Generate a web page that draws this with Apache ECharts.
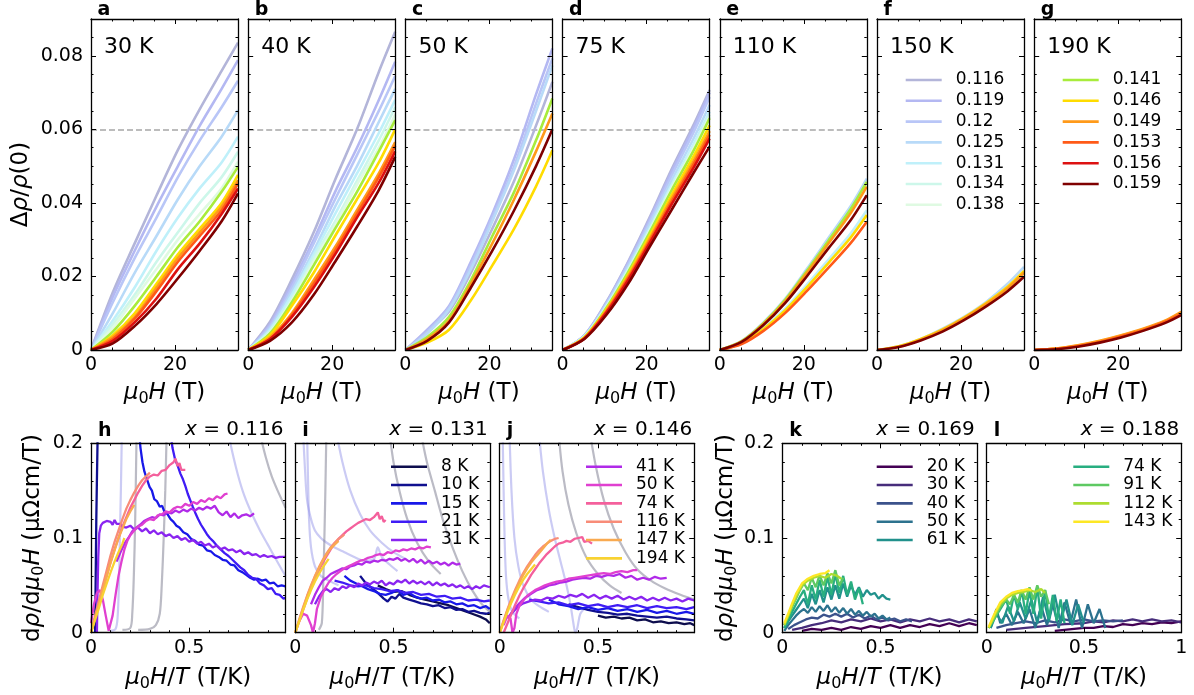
<!DOCTYPE html>
<html><head><meta charset="utf-8">
<script src="https://cdn.jsdelivr.net/npm/echarts@6/dist/echarts.min.js"></script>
<style>html,body{margin:0;padding:0;background:#fff}#c{width:1194px;height:695px}</style>
</head><body><div id="c"></div>
<script>
// ---------------- DATA ----------------
const fieldT = [0, 5.2, 10.4, 15.6, 20.7, 25.9, 31.1, 35];
const dopings = ['0.116','0.119','0.12','0.125','0.131','0.134','0.138','0.141','0.146','0.149','0.153','0.156','0.159'];
const panelTemps = ['30 K','40 K','50 K','75 K','110 K','150 K','190 K'];
const topLetters = ['a','b','c','d','e','f','g'];
const refLevel = 0.06;

const mr30K = [
 [0,0.0157,0.029,0.042,0.0544,0.0655,0.0759,0.0836],
 [0,0.0145,0.027,0.039,0.050,0.061,0.071,0.0788],
 [0,0.013,0.025,0.036,0.047,0.057,0.066,0.0732],
 [0,0.010,0.021,0.031,0.041,0.050,0.058,0.0652],
 [0,0.008,0.017,0.027,0.036,0.044,0.051,0.058],
 [0,0.007,0.015,0.024,0.032,0.040,0.047,0.0539],
 [0,0.006,0.014,0.022,0.030,0.037,0.044,0.0512],
 [0,0.005,0.012,0.020,0.028,0.035,0.043,0.0498],
 [0,0.004,0.010,0.018,0.026,0.033,0.040,0.0476],
 [0,0.0035,0.009,0.017,0.025,0.032,0.039,0.0462],
 [0,0.003,0.0085,0.016,0.024,0.031,0.038,0.0453],
 [0,0.0025,0.0075,0.014,0.022,0.029,0.037,0.0439],
 [0,0.0018,0.0065,0.0125,0.0195,0.027,0.035,0.0426]
];
const mr40K = [
 [0,0.0077,0.0192,0.032,0.0463,0.060,0.0756,0.0865],
 [0,0.007,0.018,0.030,0.043,0.055,0.068,0.0784],
 [0,0.0065,0.017,0.029,0.041,0.053,0.065,0.0745],
 [0,0.006,0.016,0.027,0.039,0.050,0.062,0.071],
 [0,0.0055,0.015,0.026,0.037,0.048,0.059,0.068],
 [0,0.005,0.014,0.025,0.035,0.046,0.057,0.066],
 [0,0.0048,0.0135,0.024,0.034,0.045,0.055,0.064],
 [0,0.0045,0.013,0.023,0.033,0.043,0.054,0.0625],
 [0,0.004,0.012,0.021,0.031,0.041,0.051,0.060],
 [0,0.0035,0.010,0.019,0.028,0.038,0.048,0.0565],
 [0,0.003,0.0095,0.018,0.027,0.037,0.047,0.0555],
 [0,0.003,0.009,0.017,0.026,0.036,0.0455,0.054],
 [0,0.0025,0.0075,0.015,0.024,0.0335,0.0435,0.0525]
];
const mr50K = [
 [0,0.005,0.0105,0.021,0.033,0.046,0.061,0.0729],
 [0,0.0055,0.012,0.024,0.037,0.052,0.0695,0.082],
 [0,0.005,0.0115,0.023,0.036,0.050,0.067,0.0793],
 [0,0.0045,0.011,0.022,0.035,0.049,0.065,0.0774],
 null, null, null,
 [0,0.0035,0.009,0.019,0.031,0.043,0.057,0.0684],
 [0,0.002,0.0055,0.0135,0.023,0.033,0.0445,0.0543],
 [0,0.003,0.008,0.018,0.029,0.041,0.054,0.0643],
 null, null,
 [0,0.0025,0.0075,0.017,0.027,0.038,0.050,0.060]
];
const mr75K = [
 [0,0.004,0.013,0.024,0.036,0.049,0.061,0.0707],
 [0,0.004,0.0128,0.0237,0.0355,0.0483,0.0602,0.070],
 [0,0.0039,0.0125,0.0232,0.0348,0.0473,0.059,0.0688],
 [0,0.0038,0.0122,0.0226,0.034,0.046,0.0573,0.0666],
 [0,0.0037,0.0119,0.022,0.033,0.0448,0.0558,0.0648],
 [0,0.0036,0.0117,0.0217,0.0326,0.0442,0.055,0.064],
 [0,0.0036,0.0116,0.0215,0.0323,0.0438,0.0546,0.0635],
 [0,0.0035,0.0114,0.0212,0.0319,0.0433,0.054,0.063],
 [0,0.0034,0.011,0.0205,0.031,0.042,0.0525,0.0611],
 [0,0.0033,0.0107,0.020,0.0302,0.041,0.0512,0.0595],
 [0,0.0032,0.0104,0.0195,0.0296,0.0402,0.0503,0.0585],
 [0,0.0031,0.0101,0.019,0.029,0.0395,0.0494,0.0575],
 [0,0.0030,0.0095,0.018,0.028,0.038,0.048,0.0553]
];
const mr110K = [
 null, null, null,
 [0,0.0025,0.0075,0.014,0.022,0.0305,0.039,0.0466],
 [0,0.0019,0.006,0.0113,0.0177,0.0246,0.0316,0.038],
 null, null,
 [0,0.0024,0.0073,0.0137,0.0215,0.0298,0.0382,0.0457],
 [0,0.0018,0.0057,0.0108,0.017,0.0237,0.0305,0.0367],
 [0,0.0023,0.0071,0.0133,0.0209,0.029,0.0371,0.0444],
 [0,0.0016,0.0052,0.0101,0.016,0.0224,0.029,0.0349],
 null,
 [0,0.0022,0.0068,0.0128,0.020,0.0277,0.0352,0.0421]
];
const mr150K = [
 null, null, null,
 [0,0.001,0.003,0.0058,0.009,0.013,0.018,0.0226],
 null, null, null, null,
 [0,0.001,0.003,0.0056,0.0088,0.0127,0.0172,0.0215],
 [0,0.0009,0.0028,0.0054,0.0086,0.0124,0.0168,0.021],
 null, null,
 [0,0.0008,0.0026,0.005,0.0081,0.0118,0.016,0.0199]
];
const mr190K = [
 null, null, null, null, null, null, null, null,
 [0,0.0004,0.0012,0.0024,0.0039,0.0056,0.0078,0.0101],
 [0,0.0004,0.0013,0.0025,0.004,0.0058,0.008,0.0104],
 [0,0.0003,0.0011,0.0022,0.0037,0.0054,0.0076,0.0098],
 null,
 [0,0.0002,0.0009,0.002,0.0034,0.0052,0.0073,0.0095]
];

// bottom row
const bottomDopings = ['0.116','0.131','0.146','0.169','0.188'];
const bottomLetters = ['h','i','j','k','l'];
const tempsLow = ['8 K','10 K','15 K','21 K','31 K','41 K','50 K','74 K','116 K','147 K','194 K'];
const tempsHigh = ['20 K','30 K','40 K','50 K','61 K','74 K','91 K','112 K','143 K'];

const dr0116 = [
 null,
 [[0.021,0],[0.023,0.04],[0.025,0.08],[0.027,0.12],[0.03,0.16],[0.034,0.21]],
 [[0.245,0.21],[0.252,0.195],[0.262,0.18],[0.272,0.17],[0.285,0.162],[0.298,0.154],[0.31,0.15],[0.322,0.141],[0.335,0.139],[0.35,0.133],[0.362,0.134],[0.375,0.127],[0.39,0.125],[0.405,0.12],[0.42,0.117],[0.435,0.113],[0.45,0.111],[0.47,0.106],[0.49,0.104],[0.51,0.099],[0.53,0.097],[0.55,0.093],[0.57,0.092],[0.59,0.087],[0.61,0.086],[0.63,0.082],[0.65,0.080],[0.67,0.077],[0.69,0.076],[0.71,0.072],[0.73,0.071],[0.75,0.066],[0.77,0.064],[0.79,0.061],[0.81,0.058],[0.83,0.056],[0.85,0.057],[0.87,0.055],[0.89,0.056],[0.91,0.052],[0.93,0.053],[0.95,0.049],[0.97,0.05],[0.99,0.049]],
 [[0.405,0.21],[0.415,0.195],[0.428,0.183],[0.442,0.176],[0.455,0.168],[0.468,0.162],[0.48,0.155],[0.492,0.147],[0.505,0.14],[0.518,0.133],[0.53,0.127],[0.545,0.12],[0.56,0.114],[0.575,0.109],[0.59,0.104],[0.605,0.1],[0.62,0.097],[0.64,0.092],[0.66,0.088],[0.68,0.084],[0.7,0.081],[0.72,0.077],[0.74,0.073],[0.76,0.069],[0.78,0.066],[0.8,0.061],[0.82,0.058],[0.84,0.057],[0.86,0.052],[0.88,0.05],[0.9,0.046],[0.92,0.047],[0.94,0.041],[0.96,0.04],[0.98,0.036],[0.99,0.037]],
 [[0.03,0],[0.033,0.04],[0.037,0.08],[0.042,0.105],[0.05,0.113],[0.06,0.116],[0.07,0.115],[0.08,0.118],[0.09,0.116],[0.1,0.117],[0.11,0.114],[0.12,0.119],[0.13,0.115],[0.14,0.113],[0.15,0.115],[0.16,0.112],[0.17,0.114],[0.18,0.111],[0.2,0.113],[0.22,0.109],[0.24,0.111],[0.26,0.107],[0.28,0.11],[0.3,0.105],[0.32,0.108],[0.34,0.104],[0.36,0.106],[0.38,0.102],[0.4,0.104],[0.42,0.1],[0.44,0.102],[0.46,0.098],[0.48,0.1],[0.5,0.096],[0.52,0.098],[0.54,0.094],[0.56,0.096],[0.58,0.092],[0.6,0.094],[0.62,0.09],[0.64,0.092],[0.66,0.088],[0.68,0.09],[0.7,0.087],[0.72,0.088],[0.74,0.085],[0.76,0.087],[0.78,0.083],[0.8,0.085],[0.82,0.082],[0.84,0.083],[0.86,0.08],[0.88,0.082],[0.9,0.08],[0.92,0.081],[0.94,0.079],[0.96,0.08],[0.99,0.08]],
 [[0.13,0.075],[0.15,0.085],[0.17,0.094],[0.19,0.1],[0.21,0.107],[0.23,0.111],[0.25,0.114],[0.27,0.118],[0.29,0.12],[0.31,0.122],[0.33,0.121],[0.35,0.125],[0.37,0.124],[0.39,0.127],[0.41,0.126],[0.43,0.129],[0.45,0.127],[0.47,0.13],[0.49,0.128],[0.51,0.131],[0.53,0.129],[0.55,0.132],[0.57,0.13],[0.59,0.133],[0.61,0.131],[0.63,0.134],[0.65,0.127],[0.67,0.124],[0.69,0.128],[0.71,0.122],[0.73,0.126],[0.75,0.121],[0.77,0.124],[0.79,0.125],[0.81,0.123],[0.83,0.126]],
 [[0.0,0.01],[0.015,0.03],[0.03,0.042],[0.045,0.045],[0.06,0.035],[0.075,0.018],[0.09,0.002],[0.1,0.0],[0.11,0.018],[0.125,0.04],[0.14,0.06],[0.155,0.075],[0.17,0.088],[0.185,0.097],[0.2,0.103],[0.22,0.108],[0.24,0.112],[0.26,0.114],[0.28,0.118],[0.3,0.12],[0.32,0.119],[0.34,0.124],[0.36,0.125],[0.38,0.128],[0.4,0.127],[0.42,0.131],[0.44,0.133],[0.46,0.132],[0.48,0.136],[0.5,0.134],[0.52,0.138],[0.54,0.136],[0.56,0.14],[0.58,0.138],[0.6,0.142],[0.62,0.14],[0.64,0.144],[0.66,0.142],[0.68,0.146],[0.695,0.147]],
 [[0,0.0],[0.02,0.015],[0.04,0.03],[0.06,0.045],[0.08,0.06],[0.1,0.075],[0.12,0.088],[0.14,0.1],[0.16,0.112],[0.18,0.122],[0.2,0.132],[0.22,0.14],[0.24,0.148],[0.26,0.155],[0.28,0.161],[0.3,0.165],[0.32,0.167],[0.34,0.166],[0.36,0.171],[0.38,0.172],[0.4,0.177],[0.42,0.18],[0.43,0.184],[0.44,0.176],[0.45,0.179],[0.46,0.172],[0.48,0.172]],
 [[0,0],[0.02,0.017],[0.04,0.034],[0.06,0.05],[0.08,0.066],[0.1,0.082],[0.12,0.096],[0.14,0.108],[0.16,0.12],[0.18,0.131],[0.2,0.14],[0.22,0.148],[0.24,0.155],[0.26,0.161],[0.28,0.165],[0.3,0.169]],
 [[0,0],[0.02,0.015],[0.04,0.03],[0.06,0.045],[0.08,0.06],[0.1,0.074],[0.12,0.087],[0.14,0.1],[0.16,0.11],[0.18,0.12],[0.2,0.128],[0.22,0.135]],
 [[0,0],[0.02,0.013],[0.04,0.026],[0.06,0.04],[0.08,0.052],[0.1,0.064],[0.12,0.075],[0.14,0.085],[0.16,0.094],[0.17,0.1]]
];
const dr0131 = [
 [[0.42,0.05],[0.46,0.046],[0.5,0.043],[0.54,0.044],[0.58,0.04],[0.62,0.037],[0.66,0.035],[0.7,0.033],[0.74,0.031],[0.78,0.029],[0.82,0.026],[0.86,0.023],[0.9,0.02],[0.94,0.017],[0.97,0.014],[0.99,0.01]],
 [[0.33,0.06],[0.36,0.052],[0.39,0.047],[0.42,0.042],[0.45,0.036],[0.47,0.033],[0.49,0.038],[0.51,0.036],[0.53,0.041],[0.55,0.037],[0.58,0.035],[0.61,0.033],[0.64,0.031],[0.67,0.03],[0.7,0.028],[0.73,0.029],[0.76,0.026],[0.79,0.027],[0.82,0.024],[0.85,0.025],[0.88,0.022],[0.91,0.023],[0.94,0.021],[0.97,0.02],[0.99,0.021]],
 [[0.25,0.06],[0.28,0.055],[0.31,0.052],[0.34,0.049],[0.37,0.046],[0.4,0.044],[0.43,0.041],[0.46,0.04],[0.49,0.042],[0.52,0.045],[0.55,0.04],[0.58,0.042],[0.61,0.038],[0.64,0.036],[0.67,0.037],[0.7,0.034],[0.73,0.035],[0.76,0.032],[0.79,0.033],[0.82,0.03],[0.85,0.031],[0.88,0.028],[0.91,0.029],[0.94,0.026],[0.97,0.028],[0.99,0.025]],
 [[0.2,0.055],[0.24,0.053],[0.28,0.05],[0.32,0.049],[0.36,0.05],[0.4,0.047],[0.44,0.046],[0.48,0.044],[0.52,0.045],[0.56,0.042],[0.6,0.043],[0.64,0.04],[0.68,0.041],[0.72,0.038],[0.76,0.039],[0.8,0.036],[0.84,0.037],[0.88,0.034],[0.92,0.035],[0.96,0.033],[0.99,0.034]],
 [[0.1,0.03],[0.12,0.038],[0.14,0.044],[0.16,0.046],[0.18,0.043],[0.2,0.047],[0.22,0.045],[0.24,0.049],[0.26,0.047],[0.28,0.05],[0.3,0.048],[0.32,0.052],[0.34,0.05],[0.36,0.053],[0.38,0.051],[0.4,0.054],[0.42,0.052],[0.44,0.055],[0.46,0.05],[0.48,0.053],[0.5,0.051],[0.52,0.055],[0.54,0.053],[0.56,0.056],[0.58,0.052],[0.6,0.055],[0.62,0.052],[0.64,0.054],[0.66,0.051],[0.68,0.054],[0.7,0.05],[0.72,0.053],[0.74,0.05],[0.76,0.052],[0.78,0.049],[0.8,0.051],[0.82,0.048],[0.84,0.05],[0.86,0.047],[0.88,0.049],[0.9,0.046],[0.92,0.049],[0.94,0.047],[0.96,0.05],[0.99,0.048]],
 [[0.08,0.03],[0.1,0.04],[0.12,0.048],[0.14,0.055],[0.16,0.058],[0.18,0.062],[0.2,0.064],[0.22,0.066],[0.24,0.068],[0.26,0.067],[0.28,0.07],[0.3,0.071],[0.32,0.073],[0.34,0.072],[0.36,0.075],[0.38,0.074],[0.4,0.076],[0.42,0.075],[0.44,0.077],[0.46,0.076],[0.48,0.078],[0.5,0.077],[0.52,0.079],[0.54,0.076],[0.56,0.078],[0.58,0.075],[0.6,0.078],[0.62,0.074],[0.64,0.077],[0.66,0.073],[0.68,0.076],[0.7,0.073],[0.72,0.075],[0.74,0.072],[0.76,0.074],[0.78,0.071],[0.8,0.074],[0.82,0.072],[0.84,0.073]],
 [[0.02,0.012],[0.04,0.02],[0.06,0.018],[0.08,0.008],[0.09,0.0],[0.1,0.01],[0.11,0.025],[0.13,0.038],[0.15,0.046],[0.17,0.053],[0.19,0.058],[0.21,0.062],[0.23,0.065],[0.25,0.068],[0.27,0.07],[0.29,0.072],[0.31,0.074],[0.33,0.076],[0.35,0.077],[0.37,0.079],[0.39,0.08],[0.41,0.082],[0.43,0.083],[0.45,0.082],[0.47,0.085],[0.49,0.084],[0.51,0.087],[0.53,0.086],[0.55,0.088],[0.57,0.087],[0.59,0.089],[0.61,0.088],[0.63,0.09],[0.65,0.089],[0.67,0.091],[0.69,0.09]],
 [[0,0],[0.02,0.012],[0.04,0.024],[0.06,0.036],[0.08,0.047],[0.1,0.057],[0.12,0.066],[0.14,0.074],[0.16,0.081],[0.18,0.088],[0.2,0.094],[0.22,0.099],[0.24,0.103],[0.26,0.107],[0.28,0.11],[0.3,0.113],[0.32,0.116],[0.34,0.118],[0.36,0.12],[0.38,0.119],[0.4,0.122],[0.42,0.127],[0.43,0.12],[0.44,0.123],[0.45,0.117],[0.46,0.119]],
 [[0,0],[0.02,0.014],[0.04,0.027],[0.06,0.039],[0.08,0.05],[0.1,0.06],[0.12,0.069],[0.14,0.077],[0.16,0.084],[0.18,0.09],[0.2,0.095],[0.22,0.099],[0.24,0.102],[0.25,0.104]],
 [[0,0],[0.02,0.013],[0.04,0.026],[0.06,0.038],[0.08,0.049],[0.1,0.059],[0.12,0.068],[0.14,0.076],[0.16,0.083],[0.18,0.089],[0.2,0.093],[0.22,0.097]],
 [[0,0],[0.02,0.012],[0.04,0.024],[0.06,0.035],[0.08,0.045],[0.1,0.054],[0.12,0.062],[0.14,0.069],[0.16,0.075],[0.17,0.078]]
];
const dr0146 = [
 [[0.5,0.018],[0.54,0.016],[0.58,0.017],[0.62,0.015],[0.66,0.016],[0.7,0.013],[0.74,0.014],[0.78,0.011],[0.82,0.012],[0.86,0.01],[0.9,0.011],[0.94,0.009],[0.97,0.01],[0.99,0.008]],
 [[0.35,0.03],[0.4,0.027],[0.45,0.024],[0.5,0.022],[0.55,0.021],[0.6,0.019],[0.65,0.02],[0.7,0.018],[0.75,0.017],[0.8,0.016],[0.85,0.017],[0.9,0.015],[0.95,0.014],[0.99,0.013]],
 [[0.25,0.035],[0.3,0.03],[0.35,0.028],[0.4,0.025],[0.45,0.027],[0.5,0.024],[0.55,0.026],[0.6,0.023],[0.65,0.025],[0.7,0.022],[0.75,0.024],[0.8,0.021],[0.85,0.023],[0.9,0.02],[0.95,0.022],[0.99,0.02]],
 [[0.15,0.035],[0.2,0.033],[0.25,0.031],[0.3,0.032],[0.35,0.029],[0.4,0.031],[0.45,0.028],[0.5,0.03],[0.55,0.027],[0.6,0.029],[0.65,0.027],[0.7,0.029],[0.75,0.026],[0.8,0.028],[0.85,0.026],[0.9,0.027],[0.95,0.025],[0.99,0.027]],
 [[0.06,0.02],[0.09,0.027],[0.12,0.031],[0.15,0.033],[0.18,0.035],[0.21,0.034],[0.24,0.037],[0.27,0.036],[0.3,0.039],[0.33,0.037],[0.36,0.04],[0.39,0.038],[0.42,0.041],[0.45,0.037],[0.48,0.04],[0.51,0.036],[0.54,0.039],[0.57,0.036],[0.6,0.039],[0.63,0.035],[0.66,0.038],[0.69,0.035],[0.72,0.038],[0.75,0.034],[0.78,0.037],[0.81,0.034],[0.84,0.037],[0.87,0.034],[0.9,0.036],[0.93,0.033],[0.96,0.036],[0.99,0.034]],
 [[0.04,0.015],[0.07,0.024],[0.1,0.031],[0.13,0.037],[0.16,0.041],[0.19,0.045],[0.22,0.047],[0.25,0.05],[0.28,0.051],[0.31,0.053],[0.34,0.054],[0.37,0.056],[0.4,0.057],[0.43,0.058],[0.46,0.057],[0.49,0.06],[0.52,0.059],[0.55,0.061],[0.58,0.06],[0.61,0.062],[0.64,0.058],[0.67,0.06],[0.7,0.056],[0.73,0.058],[0.76,0.056],[0.79,0.059],[0.82,0.057],[0.85,0.058]],
 [[0.02,0.008],[0.04,0.018],[0.055,0.015],[0.065,0.0],[0.075,0.005],[0.085,0.02],[0.1,0.028],[0.12,0.034],[0.14,0.039],[0.16,0.042],[0.18,0.045],[0.2,0.047],[0.23,0.05],[0.26,0.052],[0.29,0.054],[0.32,0.055],[0.35,0.057],[0.38,0.058],[0.41,0.059],[0.44,0.06],[0.47,0.061],[0.5,0.062],[0.53,0.063],[0.56,0.062],[0.59,0.064],[0.62,0.065],[0.65,0.064],[0.68,0.066],[0.7,0.066]],
 [[0.02,0],[0.04,0.01],[0.06,0.02],[0.08,0.03],[0.1,0.039],[0.12,0.047],[0.14,0.054],[0.16,0.061],[0.18,0.067],[0.2,0.073],[0.22,0.078],[0.24,0.083],[0.26,0.087],[0.28,0.091],[0.3,0.094],[0.32,0.095],[0.34,0.097],[0.36,0.096],[0.38,0.099],[0.4,0.1],[0.41,0.098],[0.42,0.101],[0.43,0.096],[0.45,0.097],[0.47,0.094]],
 [[0,0],[0.02,0.013],[0.04,0.025],[0.06,0.036],[0.08,0.046],[0.1,0.055],[0.12,0.063],[0.14,0.07],[0.16,0.076],[0.18,0.082],[0.2,0.087],[0.22,0.091],[0.24,0.094],[0.26,0.097],[0.28,0.099],[0.3,0.1]],
 [[0,0],[0.02,0.012],[0.04,0.024],[0.06,0.034],[0.08,0.044],[0.1,0.053],[0.12,0.061],[0.14,0.068],[0.16,0.074],[0.18,0.079],[0.2,0.084],[0.22,0.089],[0.24,0.094],[0.26,0.098]],
 [[0,0],[0.02,0.011],[0.04,0.022],[0.06,0.032],[0.08,0.041],[0.1,0.049],[0.12,0.056],[0.14,0.062],[0.16,0.067],[0.18,0.072]]
];
const dr0169 = [
 [[0.1,0.002],[0.15,0.004],[0.2,0.003],[0.25,0.005],[0.3,0.003],[0.35,0.006],[0.4,0.004],[0.45,0.007],[0.5,0.005],[0.55,0.008],[0.6,0.005],[0.65,0.008],[0.7,0.006],[0.75,0.009],[0.8,0.007],[0.85,0.01],[0.9,0.007],[0.95,0.01],[0.99,0.008]],
 [[0.05,0.003],[0.1,0.005],[0.15,0.008],[0.2,0.01],[0.25,0.013],[0.3,0.011],[0.35,0.014],[0.4,0.012],[0.45,0.015],[0.5,0.012],[0.55,0.014],[0.6,0.011],[0.65,0.014],[0.7,0.012],[0.75,0.015],[0.8,0.012],[0.85,0.014],[0.9,0.011],[0.95,0.014],[0.99,0.012]],
 [[0.03,0.004],[0.06,0.008],[0.09,0.011],[0.12,0.014],[0.15,0.016],[0.18,0.015],[0.21,0.019],[0.24,0.017],[0.27,0.02],[0.3,0.017],[0.33,0.02],[0.36,0.016],[0.39,0.019],[0.42,0.015],[0.45,0.018],[0.48,0.014],[0.51,0.016],[0.54,0.013],[0.57,0.015],[0.6,0.012],[0.63,0.014],[0.66,0.012]],
 [[0.01,0.002],[0.03,0.008],[0.05,0.013],[0.07,0.018],[0.09,0.022],[0.11,0.025],[0.13,0.021],[0.15,0.027],[0.17,0.022],[0.19,0.028],[0.21,0.023],[0.23,0.029],[0.25,0.022],[0.27,0.027],[0.29,0.021],[0.31,0.026],[0.33,0.02],[0.35,0.025],[0.37,0.019],[0.39,0.023],[0.41,0.018],[0.43,0.022],[0.45,0.017],[0.47,0.02],[0.49,0.015],[0.51,0.018],[0.53,0.014],[0.55,0.016]],
 [[0.01,0.005],[0.03,0.012],[0.05,0.018],[0.07,0.024],[0.09,0.03],[0.11,0.036],[0.13,0.026],[0.15,0.041],[0.17,0.03],[0.19,0.045],[0.21,0.032],[0.23,0.048],[0.25,0.035],[0.27,0.05],[0.29,0.036],[0.31,0.052],[0.33,0.038],[0.35,0.05],[0.37,0.04],[0.39,0.048],[0.41,0.038],[0.43,0.045],[0.45,0.04],[0.47,0.042],[0.49,0.036],[0.51,0.04],[0.53,0.036],[0.55,0.035]],
 [[0.01,0.005],[0.03,0.013],[0.05,0.022],[0.07,0.03],[0.09,0.038],[0.11,0.045],[0.13,0.03],[0.15,0.05],[0.17,0.035],[0.19,0.056],[0.21,0.038],[0.23,0.059],[0.25,0.04],[0.27,0.062],[0.29,0.042],[0.31,0.06],[0.33,0.04],[0.35,0.054],[0.37,0.035],[0.39,0.047],[0.41,0.03]],
 [[0.01,0.008],[0.03,0.017],[0.05,0.027],[0.07,0.036],[0.09,0.045],[0.11,0.052],[0.13,0.045],[0.15,0.058],[0.17,0.048],[0.19,0.061],[0.21,0.05],[0.23,0.063],[0.25,0.052],[0.27,0.066],[0.29,0.05],[0.31,0.058]],
 [[0.01,0.008],[0.03,0.018],[0.05,0.029],[0.07,0.038],[0.1,0.05],[0.13,0.055],[0.16,0.058],[0.19,0.06],[0.22,0.058],[0.25,0.062],[0.28,0.06],[0.3,0.057]],
 [[0.01,0.01],[0.03,0.02],[0.05,0.031],[0.07,0.041],[0.1,0.052],[0.13,0.057],[0.16,0.06],[0.19,0.062],[0.22,0.063],[0.24,0.066]]
];
const dr0188 = [
 [[0.35,0.002],[0.4,0.003],[0.45,0.004],[0.5,0.005],[0.55,0.005],[0.6,0.007],[0.65,0.006],[0.7,0.009],[0.75,0.008],[0.8,0.01],[0.85,0.009],[0.9,0.011],[0.95,0.01],[1.0,0.012]],
 [[0.1,0.003],[0.2,0.005],[0.3,0.007],[0.4,0.009],[0.5,0.01],[0.55,0.012],[0.6,0.011],[0.65,0.013],[0.7,0.012],[0.75,0.014],[0.8,0.012],[0.85,0.014],[0.9,0.012],[0.95,0.013],[1.0,0.011]],
 [[0.05,0.005],[0.1,0.008],[0.15,0.01],[0.2,0.012],[0.25,0.01],[0.3,0.013],[0.35,0.011],[0.4,0.014],[0.45,0.012],[0.5,0.014],[0.55,0.012],[0.6,0.013],[0.65,0.012],[0.7,0.013]],
 [[0.02,0.005],[0.05,0.025],[0.07,0.01],[0.1,0.02],[0.13,0.008],[0.16,0.022],[0.19,0.01],[0.22,0.025],[0.25,0.005],[0.28,0.028],[0.31,0.008],[0.34,0.03],[0.37,0.005],[0.4,0.032],[0.43,0.01],[0.46,0.035],[0.49,0.005],[0.52,0.03],[0.55,0.01],[0.58,0.025],[0.61,0.005]],
 [[0.02,0.005],[0.05,0.02],[0.08,0.01],[0.11,0.028],[0.14,0.012],[0.17,0.032],[0.2,0.015],[0.23,0.035],[0.26,0.01],[0.29,0.038],[0.32,0.012],[0.35,0.04],[0.38,0.01],[0.41,0.035],[0.44,0.008],[0.47,0.03],[0.5,0.01]],
 [[0.01,0.005],[0.04,0.015],[0.07,0.025],[0.1,0.035],[0.12,0.02],[0.14,0.04],[0.16,0.025],[0.18,0.045],[0.2,0.02],[0.22,0.045],[0.24,0.02],[0.26,0.048],[0.28,0.015],[0.3,0.045],[0.32,0.015],[0.34,0.04],[0.36,0.012],[0.38,0.035],[0.4,0.01]],
 [[0.01,0.005],[0.04,0.015],[0.07,0.027],[0.1,0.035],[0.12,0.03],[0.14,0.04],[0.16,0.032],[0.18,0.045],[0.2,0.035],[0.22,0.048],[0.24,0.035],[0.26,0.05],[0.28,0.038],[0.3,0.045],[0.32,0.03]],
 [[0.01,0.005],[0.04,0.018],[0.07,0.03],[0.1,0.036],[0.13,0.04],[0.16,0.042],[0.19,0.043],[0.22,0.045],[0.25,0.043],[0.28,0.046],[0.3,0.042]],
 [[0.01,0.006],[0.04,0.02],[0.07,0.032],[0.1,0.038],[0.13,0.042],[0.16,0.044],[0.19,0.045],[0.21,0.046],[0.23,0.045]]
];

// faint reference curves behind panels h, i, j
const faintLav0116 = [
 [[0.1,0.002],[0.125,0.004],[0.135,0.015],[0.142,0.05],[0.147,0.1],[0.152,0.15],[0.157,0.21]],
 [[0.7,0.21],[0.72,0.19],[0.75,0.165],[0.78,0.145],[0.82,0.125],[0.86,0.108],[0.9,0.093],[0.94,0.078],[0.97,0.067],[0.99,0.06]]
];
const faintGrey0116 = [
 [[0.16,0.003],[0.2,0.005],[0.21,0.02],[0.218,0.06],[0.225,0.12],[0.232,0.21]],
 [[0.24,0.003],[0.3,0.004],[0.33,0.008],[0.35,0.02],[0.36,0.05],[0.37,0.1],[0.378,0.15],[0.385,0.21]],
 [[0.86,0.21],[0.89,0.185],[0.92,0.165],[0.95,0.15],[0.99,0.132]]
];
const faintLav0131 = [
 [[0.04,0.21],[0.05,0.17],[0.06,0.14],[0.08,0.12],[0.1,0.108],[0.13,0.1],[0.16,0.095],[0.2,0.09],[0.25,0.085],[0.3,0.08],[0.35,0.076],[0.4,0.078],[0.42,0.09],[0.44,0.08],[0.48,0.072],[0.52,0.065]],
 [[0.06,0.21],[0.065,0.16],[0.07,0.12],[0.08,0.09],[0.1,0.07],[0.13,0.06],[0.17,0.055],[0.22,0.05]],
 [[0.21,0.21],[0.24,0.18],[0.28,0.15],[0.33,0.125],[0.38,0.108],[0.44,0.095],[0.5,0.085],[0.56,0.078]]
];
const faintGrey0131 = [
 [[0.12,0.003],[0.135,0.01],[0.142,0.05],[0.148,0.1],[0.153,0.15],[0.158,0.21]],
 [[0.48,0.21],[0.5,0.18],[0.53,0.15],[0.57,0.12],[0.62,0.095],[0.68,0.075],[0.74,0.062]],
 [[0.64,0.21],[0.67,0.18],[0.71,0.15],[0.75,0.12],[0.8,0.09],[0.85,0.065],[0.9,0.045],[0.95,0.03],[0.99,0.022]]
];
const faintLav0146 = [
 [[0.015,0.21],[0.02,0.15],[0.025,0.1],[0.032,0.06],[0.045,0.035],[0.065,0.022],[0.1,0.015]],
 [[0.05,0.21],[0.06,0.15],[0.075,0.1],[0.095,0.07],[0.12,0.05],[0.16,0.035],[0.2,0.028],[0.25,0.022]],
 [[0.2,0.21],[0.22,0.17],[0.25,0.13],[0.28,0.1],[0.31,0.075],[0.34,0.05],[0.36,0.03],[0.375,0.01],[0.385,0],[0.395,0.005],[0.41,0.02],[0.43,0.025]]
];
const faintGrey0146 = [
 [[0.3,0.21],[0.32,0.17],[0.35,0.135],[0.39,0.105],[0.44,0.08],[0.5,0.062],[0.56,0.05],[0.62,0.042]],
 [[0.46,0.21],[0.49,0.175],[0.53,0.14],[0.58,0.11],[0.64,0.085],[0.7,0.067],[0.77,0.055],[0.84,0.047],[0.92,0.04],[0.99,0.035]]
];

// ---------------- STYLE / LAYOUT ----------------
const FONT = 'DejaVu Sans';
const dopingColors = ['#b3b5d9','#b4b8f2','#b9c6f7','#b8daf8','#bff0fa','#cdf7ea','#dffae2','#a8ec3c','#ffdc00','#ff9a1a','#ff5a18','#dd1111','#7f0000'];
const lowColors = ['#0d0d4d','#10108f','#1818e8','#3f1cf5','#8a24f0','#b02ae8','#e040d0','#f4609c','#f88c78','#f9aa50','#f8d232'];
const highColors = ['#440154','#472d7b','#3b528b','#2c728e','#21918c','#28ae80','#5ec962','#addc30','#fde725'];
const lavFaint = 'rgba(140,140,230,0.45)';
const greyFaint = 'rgba(120,120,140,0.5)';

const topLefts = [91, 248.2, 405.4, 562.6, 719.8, 877, 1034.2];
const topW = 147, topTop = 19, topH = 331;
const botLefts = [91, 295.3, 499.7, 782.3, 986.7];
const botW = 194.5, botTop = 443.3, botH = 189.4;

const rich = {
  i: {fontFamily: FONT, fontSize: 23, fontStyle: 'italic', lineHeight: 28, color: '#000'},
  n: {fontFamily: FONT, fontSize: 23, lineHeight: 28, color: '#000'},
  s: {fontFamily: FONT, fontSize: 16, lineHeight: 14, verticalAlign: 'bottom', color: '#000'}
};

const grids = [], xAxes = [], yAxes = [], series = [], graphics = [];

function axis(dim, g, pos, cfg, major, showLabels, extra) {
  return Object.assign({
    type: 'value', gridIndex: g, position: pos, min: cfg.min, max: cfg.max,
    interval: major ? cfg.major : cfg.minor,
    axisLine: {show: major, onZero: false, lineStyle: {color: '#000', width: 1.3}},
    axisTick: {show: true, inside: true, length: major ? 5 : 2.5, lineStyle: {color: '#000', width: 1}},
    axisLabel: {show: showLabels, showMaxLabel: cfg.showMax, fontFamily: FONT, fontSize: 19, color: '#000', margin: dim === 'x' ? 6 : 8},
    splitLine: {show: false}, z: 5
  }, extra || {});
}

function addPanel(left, top, w, h, xc, yc, yLabels, xName, xGap, yName, yGap) {
  const g = grids.length;
  grids.push({left: left, top: top, width: w, height: h, containLabel: false});
  const xExtra = {name: xName, nameLocation: 'middle', nameGap: xGap, nameTextStyle: {rich: rich, fontFamily: FONT, fontSize: 23, color: '#000'}};
  xAxes.push(axis('x', g, 'bottom', xc, true, true, xExtra));
  xAxes.push(axis('x', g, 'bottom', xc, false, false));
  xAxes.push(axis('x', g, 'top', xc, true, false));
  xAxes.push(axis('x', g, 'top', xc, false, false));
  const yExtra = yName ? {name: yName, nameLocation: 'middle', nameRotate: 90, nameGap: yGap, nameTextStyle: {rich: rich, fontFamily: FONT, fontSize: 23, color: '#000'}} : {};
  yAxes.push(axis('y', g, 'left', yc, true, yLabels, yExtra));
  yAxes.push(axis('y', g, 'left', yc, false, false));
  yAxes.push(axis('y', g, 'right', yc, true, false));
  yAxes.push(axis('y', g, 'right', yc, false, false));
  return g;
}

function text(x, y, str, size, opts) {
  graphics.push(Object.assign({type: 'text', x: x, y: y, silent: true, z: 10,
    style: Object.assign({text: str, fontFamily: FONT, fontSize: size, fill: '#000', align: 'left', verticalAlign: 'middle'}, opts || {})}));
}

// ---- top row ----
const topX = {min: 0, max: 35, major: 20, minor: 5, showMax: false};
const topY = {min: 0, max: 0.09, major: 0.02, minor: 0.005, showMax: false};
const topPanels = [mr30K, mr40K, mr50K, mr75K, mr110K, mr150K, mr190K];
topPanels.forEach((panel, p) => {
  const g = addPanel(topLefts[p], topTop, topW, topH, topX, topY, p === 0,
    '{i|μ}{s|0}{i|H}{n| (T)}', 29,
    p === 0 ? '{n|Δ}{i|ρ}{n|/}{i|ρ}{n|(0)}' : null, 56);
  let first = true;
  panel.forEach((vals, d) => {
    if (!vals) return;
    const s = {
      type: 'line', name: dopings[d], xAxisIndex: 4 * g, yAxisIndex: 4 * g,
      data: fieldT.map((hh, k) => [hh, vals[k]]), smooth: 0.3, symbol: 'none', showSymbol: false,
      lineStyle: {width: 2.6, color: dopingColors[d]}, itemStyle: {color: dopingColors[d]},
      z: 3, silent: true, animation: false
    };
    if (first && p < 5) {
      s.markLine = {silent: true, symbol: 'none', z: 2, animation: false, label: {show: false},
        lineStyle: {type: [6, 3], color: '#a6a6a6', width: 1.5}, data: [{yAxis: refLevel}]};
    }
    first = false;
    series.push(s);
  });
  text(topLefts[p] + 6.5, 10, topLetters[p], 19, {fontWeight: 'bold'});
  text(topLefts[p] + 13, 47.5, panelTemps[p], 22);
});

// ---- bottom row ----
const botXa = {min: 0, max: 0.99, major: 0.5, minor: 0.1, showMax: false};
const botXb = {min: 0, max: 1, major: 0.5, minor: 0.1, showMax: true};
const botY = {min: 0, max: 0.2, major: 0.1, minor: 0.02, showMax: true};
const yNameB = '{n|d}{i|ρ}{n|/d}{i|μ}{s|0}{i|H}{n| (μΩcm/T)}';
const xNameB = '{i|μ}{s|0}{i|H}{n|/}{i|T}{n| (T/K)}';
const botData = [dr0116, dr0131, dr0146, dr0169, dr0188];
const faintL = [faintLav0116, faintLav0131, faintLav0146, [], []];
const faintG = [faintGrey0116, faintGrey0131, faintGrey0146, [], []];

botData.forEach((panel, p) => {
  const hasY = (p === 0 || p === 3);
  const g = addPanel(botLefts[p], botTop, botW, botH, p === 4 ? botXb : botXa, botY, hasY,
    xNameB, 31, hasY ? yNameB : null, p === 0 ? 44 : 37);
  const addFaint = (arr, col) => arr.forEach((pts) => series.push({
    type: 'line', name: 'ref curve', xAxisIndex: 4 * g, yAxisIndex: 4 * g, data: pts,
    smooth: 0.3, symbol: 'none', showSymbol: false, lineStyle: {width: 2.2, color: col},
    z: 2, silent: true, animation: false
  }));
  addFaint(faintL[p], lavFaint);
  addFaint(faintG[p], greyFaint);
  const low = p < 3;
  panel.forEach((pts, t) => {
    if (!pts) return;
    const col = low ? lowColors[t] : highColors[t];
    const nm = low ? tempsLow[t] : 'v' + tempsHigh[t];
    series.push({
      type: 'line', name: nm, xAxisIndex: 4 * g, yAxisIndex: 4 * g, data: pts,
      smooth: false, symbol: 'none', showSymbol: false,
      lineStyle: {width: 2.3, color: col}, itemStyle: {color: col},
      z: 3, silent: true, animation: false
    });
  });
  text(botLefts[p] + 7, 431, bottomLetters[p], 19, {fontWeight: 'bold'});
  text(botLefts[p] + botW - 2, 430, '{i|x} = ' + bottomDopings[p], 20,
    {align: 'right', rich: {i: {fontFamily: FONT, fontSize: 20, fontStyle: 'italic', fill: '#000'}}});
});

// ---- legends ----
const lineIcon = 'path://M0,0L0,0M0,7.7L36,7.7L36,10.3L0,10.3ZM36,18L36,18';
function legend(left, top, names, gap) {
  return {
    show: true, orient: 'vertical', left: left, top: top, padding: 0,
    itemWidth: 36, itemHeight: 18, itemGap: gap, selectedMode: false,
    icon: lineIcon, symbolKeepAspect: false,
    data: names,
    formatter: (n) => n.charAt(0) === 'v' ? n.slice(1) : n,
    textStyle: {fontFamily: FONT, fontSize: 17, color: '#000', lineHeight: 18, padding: [0, 0, 0, 9]}
  };
}
const legends = [
  legend(905.7, 71, dopings.slice(0, 7), 2.8),
  legend(1062.7, 71, dopings.slice(7), 2.8),
  legend(391, 457.7, tempsLow.slice(0, 5), 0.33),
  legend(586, 457.7, tempsLow.slice(5), 0.33),
  legend(876.7, 457.7, tempsHigh.slice(0, 5).map(n => 'v' + n), 0.33),
  legend(1073.3, 457.7, tempsHigh.slice(5).map(n => 'v' + n), 0.33)
];

const chart = echarts.init(document.getElementById('c'), null, {renderer: 'canvas'});
chart.setOption({
  animation: false,
  backgroundColor: '#fff',
  grid: grids, xAxis: xAxes, yAxis: yAxes, series: series,
  legend: legends, graphic: graphics
});
</script></body></html>
